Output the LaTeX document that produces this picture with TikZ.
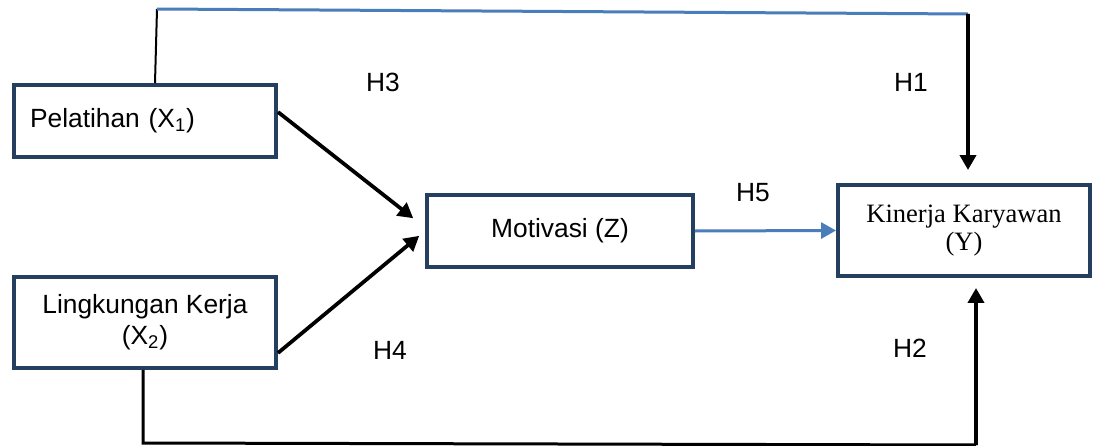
\documentclass[tikz,border=0pt]{standalone}
\usepackage{fontspec}
\setmainfont{Liberation Sans}
\newfontfamily\timesfont{Liberation Serif}
\usetikzlibrary{arrows.meta,scopes}
\definecolor{boxblue}{HTML}{243F60}
\definecolor{lineblue}{HTML}{4A7EBB}

\begin{document}
\begin{tikzpicture}[x=0.02cm,y=-0.02cm,
      var/.style={draw=boxblue,line width=0.08cm,fill=white,align=center,
                  font=\fontsize{15}{17.6}\selectfont},
      arr/.style={line width=0.075cm,-{Triangle[length=0.3cm,width=0.32cm]}},
      hyp/.style={font=\fontsize{15}{16}\selectfont}
]
      \useasboundingbox (0,0) rectangle (1095,446);
      % variabel
      \node[var,minimum width=5.24cm,minimum height=1.44cm,text width=4.6cm,align=left]
            at (145,121) (x1) {Pelatihan (X\textsubscript{1})};
      \node[var,minimum width=5.24cm,minimum height=1.82cm]
            at (145,322.5) (x2) {Lingkungan Kerja\\(X\textsubscript{2})};
      \node[var,minimum width=5.32cm,minimum height=1.44cm]
            at (560,231) (z) {Motivasi (Z)};
      \node[var,minimum width=5.04cm,minimum height=1.82cm,
            font=\timesfont\fontsize{15.1}{15.9}\selectfont]
            at (964,230.5) (y) {Kinerja Karyawan\\(Y)};
      % hipotesis
      \node[hyp] at (383,82) (h3) {H3};
      \node[hyp] at (911,82) (h1) {H1};
      \node[hyp] at (753,193) (h5) {H5};
      \node[hyp] at (390,350) (h4) {H4};
      \node[hyp] at (910,348) (h2) {H2};
      % jalur
      \coordinate (t1) at (157,9);
      \coordinate (t2) at (968,14);
      \coordinate (b1) at (143,443);
      \coordinate (b2) at (976,445);
      \draw[line width=0.04cm] ([xshift=0.2cm]x1.north) -- (t1);
      \draw[lineblue,line width=0.06cm] (t1) -- (t2);
      \draw[arr,shorten >=0.26cm] (t2) -- ([xshift=0.08cm]y.north);
      \draw[line width=0.06cm] ([xshift=-0.04cm]x2.south) -- (b1) -- (b2);
      \draw[arr,shorten >=0.2cm] (b2) -- ([xshift=0.24cm]y.south);
      {[arr]
          \draw[shorten >=0.3cm] ([yshift=0.18cm]x1.east) -- ([yshift=0.07cm]z.west);
          \draw[shorten >=0.15cm] ([yshift=-0.61cm]x2.east) -- (z.west);
      }
      \draw[arr,lineblue,line width=0.06cm] (z.east) -- (y.west);
\end{tikzpicture}
\end{document}
